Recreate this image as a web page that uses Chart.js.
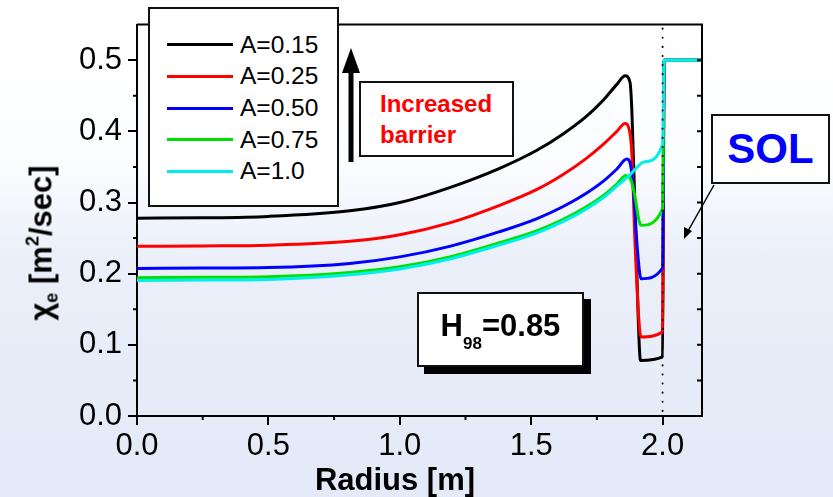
<!DOCTYPE html>
<html lang="en">
<head>
<meta charset="UTF-8">
<title>Electron heat diffusivity vs radius</title>
<script src="https://cdn.jsdelivr.net/npm/chart.js@4.4.1/dist/chart.umd.min.js"></script>
<style>
  * { box-sizing: border-box; }
  html, body { margin: 0; padding: 0; }
  body {
    width: 833px; height: 497px; overflow: hidden;
    font-family: "Liberation Sans", Arial, sans-serif; color: #000;
    background: linear-gradient(to bottom, #ffffff 0%, #fcfdff 32%, #eaeff9 52%, #e3e9f7 100%);
  }
  #wrap { position: relative; width: 833px; height: 497px; }
  #chart { position: absolute; left: 0; top: 0; }
  .box { position: absolute; background: #fff; border: 2px solid #111; }
  #legend { left: 148px; top: 7px; width: 191px; height: 200px; padding-top: 20px; }
  #legend .row { display: flex; align-items: center; height: 31.7px; padding-left: 17px; }
  #legend .swatch { width: 66px; height: 3px; margin-right: 7px; }
  #legend .label { font-size: 24.5px; line-height: 1; }
  #barrier { left: 359px; top: 81px; width: 155px; height: 76px; padding: 5px 0 0 19px;
    color: #ff0000; font-weight: bold; font-size: 24px; line-height: 31px; }
  #h98 { left: 417px; top: 292px; width: 167px; height: 75px; box-shadow: 7px 7px 0 #000;
    padding: 0 0 6px 0; display: flex; align-items: center; justify-content: center;
    font-weight: bold; font-size: 31px; line-height: 1; }
  #h98 sub { font-size: 17px; vertical-align: -13px; line-height: 0; }
  #sol { left: 711px; top: 114px; width: 119px; height: 70px;
    display: flex; align-items: center; justify-content: center;
    color: #0000ff; font-weight: bold; font-size: 42px; line-height: 1; }
  .axis-title { position: absolute; font-weight: bold; white-space: nowrap; line-height: 1; }
  #xtitle { left: 395px; top: 464px; font-size: 31px; transform: translateX(-50%); }
  #ytitle { left: 41px; top: 243px; font-size: 31px; transform: translate(-50%, -50%) rotate(-90deg); }
  #ytitle sub { font-size: 18px; vertical-align: -6px; line-height: 0; }
  #ytitle sup { font-size: 18px; vertical-align: 13px; line-height: 0; }
  svg { position: absolute; left: 0; top: 0; }
</style>
</head>
<body>
<div id="wrap">
  <canvas id="chart" width="833" height="497"></canvas>
  <svg width="833" height="497">
    <line x1="351" y1="162" x2="351" y2="70" stroke="#000" stroke-width="5"/>
    <polygon points="351,48 342,73 360,73" fill="#000"/>
    <line x1="714" y1="185" x2="688" y2="231" stroke="#000" stroke-width="1.5"/>
    <polygon points="684,239 684,227 692,231" fill="#000"/>
  </svg>
  <div class="box" id="legend"></div>
  <div class="box" id="barrier">Increased<br>barrier</div>
  <div class="box" id="h98"><span>H<sub>98</sub>=0.85</span></div>
  <div class="box" id="sol">SOL</div>
  <div class="axis-title" id="xtitle">Radius [m]</div>
  <div class="axis-title" id="ytitle">χ<sub>e</sub> [m<sup>2</sup>/sec]</div>
</div>

<script>
// --- data ---
const seriesLabels = ["A=0.15", "A=0.25", "A=0.50", "A=0.75", "A=1.0"];
const seriesColors = ["#000000", "#ff0000", "#0000ff", "#00e000", "#00eeee"];

const rA015 = [0, 0.25, 0.5, 0.81, 1.0, 1.19, 1.38, 1.52, 1.62, 1.71, 1.775, 1.826, 1.858, 1.876, 1.883, 1.895, 1.908, 1.916, 2.0, 2.006, 2.15];
const chiA015 = [0.278, 0.2785, 0.2805, 0.2884, 0.300, 0.321, 0.348, 0.373, 0.396, 0.421, 0.444, 0.466, 0.478, 0.469, 0.430, 0.291, 0.129, 0.078, 0.083, 0.5, 0.5];

const rA025 = [0, 0.25, 0.5, 0.81, 1.0, 1.19, 1.38, 1.52, 1.62, 1.71, 1.775, 1.826, 1.857, 1.874, 1.883, 1.895, 1.912, 1.918, 2.0, 2.006, 2.15];
const chiA025 = [0.2385, 0.239, 0.240, 0.2454, 0.2546, 0.2713, 0.296, 0.318, 0.339, 0.362, 0.382, 0.400, 0.411, 0.401, 0.369, 0.244, 0.124, 0.111, 0.1185, 0.5, 0.5];

const rA050 = [0, 0.25, 0.5, 0.81, 1.0, 1.19, 1.38, 1.52, 1.62, 1.71, 1.775, 1.826, 1.864, 1.879, 1.889, 1.904, 1.918, 2.0, 2.006, 2.15];
const chiA050 = [0.2074, 0.2078, 0.2085, 0.2143, 0.2236, 0.2384, 0.259, 0.277, 0.294, 0.313, 0.330, 0.347, 0.361, 0.351, 0.318, 0.235, 0.193, 0.208, 0.5, 0.5];

const rA075 = [0, 0.25, 0.5, 0.81, 1.0, 1.19, 1.38, 1.52, 1.62, 1.71, 1.775, 1.826, 1.860, 1.876, 1.892, 1.912, 1.918, 2.0, 2.006, 2.15];
const chiA075 = [0.1944, 0.195, 0.1958, 0.2018, 0.2097, 0.2236, 0.2435, 0.260, 0.276, 0.294, 0.310, 0.326, 0.338, 0.335, 0.314, 0.272, 0.268, 0.291, 0.5, 0.5];

const rA100 = [0, 0.25, 0.5, 0.81, 1.0, 1.19, 1.38, 1.52, 1.62, 1.71, 1.775, 1.826, 1.876, 1.93, 2.0, 2.006, 2.15];
const chiA100 = [0.1905, 0.191, 0.1918, 0.1985, 0.2067, 0.2206, 0.2405, 0.257, 0.273, 0.291, 0.307, 0.323, 0.339, 0.357, 0.382, 0.5, 0.5];

const radii = [rA015, rA025, rA050, rA075, rA100];
const chis = [chiA015, chiA025, chiA050, chiA075, chiA100];

// axes
const xMin = 0, xMax = 2.15;
const yMin = 0, yMax = 0.55;
const xTicks = [0, 0.5, 1.0, 1.5, 2.0];
const xMinorTicks = [0.25, 0.75, 1.25, 1.75];
const yTicks = [0, 0.1, 0.2, 0.3, 0.4, 0.5];
const yMinorTicks = [0.05, 0.15, 0.25, 0.35, 0.45];
const yRightTicks = [0.05, 0.1, 0.15, 0.2, 0.25, 0.3, 0.35, 0.4, 0.45, 0.5];
const separatrix = 2.0;

// legend box (html)
const legendEl = document.getElementById("legend");
seriesLabels.forEach((lab, i) => {
  const row = document.createElement("div");
  row.className = "row";
  row.innerHTML = `<span class="swatch" style="background:${seriesColors[i]}"></span><span class="label">${lab}</span>`;
  legendEl.appendChild(row);
});

// frame, minor ticks, right ticks and dotted separatrix
const framePlugin = {
  id: "frame",
  afterDraw(chart) {
    const { ctx, chartArea: a, scales: { x, y } } = chart;
    ctx.save();
    ctx.strokeStyle = "#000";
    ctx.lineWidth = 2;
    ctx.beginPath();
    ctx.moveTo(a.left, a.top);
    ctx.lineTo(a.right, a.top);
    ctx.lineTo(a.right, a.bottom);
    ctx.stroke();

    ctx.beginPath();
    for (const v of xMinorTicks) {
      const px = x.getPixelForValue(v);
      ctx.moveTo(px, a.bottom);
      ctx.lineTo(px, a.bottom + 4);
    }
    for (const v of yMinorTicks) {
      const py = y.getPixelForValue(v);
      ctx.moveTo(a.left, py);
      ctx.lineTo(a.left - 4, py);
    }
    for (const v of yRightTicks) {
      const py = y.getPixelForValue(v);
      ctx.moveTo(a.right, py);
      ctx.lineTo(a.right - 5, py);
    }
    ctx.stroke();

    const sx = x.getPixelForValue(separatrix);
    ctx.lineWidth = 2;
    ctx.lineCap = "round";
    ctx.setLineDash([0.1, 9]);
    ctx.beginPath();
    ctx.moveTo(sx, a.top + 4);
    ctx.lineTo(sx, a.bottom);
    ctx.stroke();
    ctx.restore();
  }
};

new Chart(document.getElementById("chart"), {
  type: "line",
  data: {
    datasets: seriesLabels.map((lab, i) => ({
      label: lab,
      data: radii[i].map((r, j) => ({ x: r, y: chis[i][j] })),
      borderColor: seriesColors[i],
      backgroundColor: seriesColors[i],
      borderWidth: 3,
      pointRadius: 0,
      cubicInterpolationMode: "monotone",
      order: seriesLabels.length - i,
    }))
  },
  options: {
    responsive: false,
    animation: false,
    layout: { padding: { left: 0, right: 131, top: 20, bottom: 0 } },
    plugins: { legend: { display: false }, tooltip: { enabled: false } },
    scales: {
      x: {
        type: "linear",
        min: xMin, max: xMax,
        afterBuildTicks: s => { s.ticks = xTicks.map(v => ({ value: v })); },
        afterFit: s => { s.height = 81; },
        ticks: {
          color: "#000", padding: 3, maxRotation: 0, autoSkip: false,
          font: { family: "Liberation Sans", size: 31 },
          callback: v => v.toFixed(1)
        },
        grid: { drawOnChartArea: false, drawTicks: true, tickLength: 9, color: "#000", lineWidth: 2 },
        border: { display: true, color: "#000", width: 2 }
      },
      y: {
        min: yMin, max: yMax,
        afterBuildTicks: s => { s.ticks = yTicks.map(v => ({ value: v })); },
        afterFit: s => { s.width = 137; },
        ticks: {
          color: "#000", padding: 6, autoSkip: false,
          font: { family: "Liberation Sans", size: 31 },
          callback: v => v.toFixed(1)
        },
        grid: { drawOnChartArea: false, drawTicks: true, tickLength: 9, color: "#000", lineWidth: 2 },
        border: { display: true, color: "#000", width: 2 }
      }
    }
  },
  plugins: [framePlugin]
});
</script>
</body>
</html>
